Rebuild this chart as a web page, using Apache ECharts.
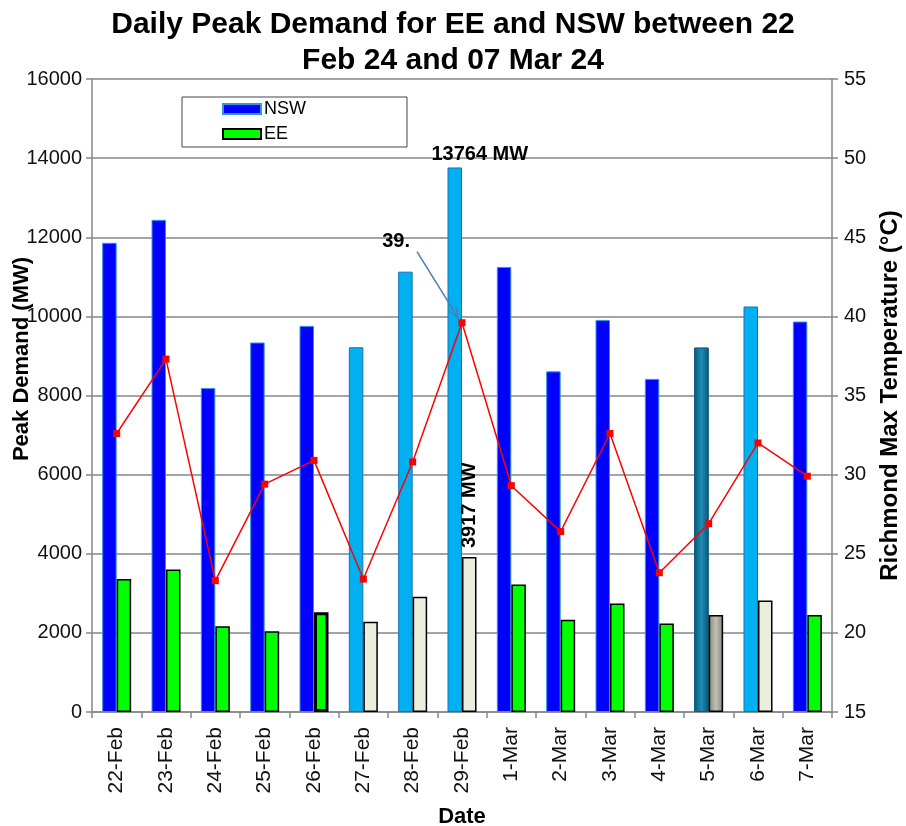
<!DOCTYPE html>
<html>

<head>
    <meta charset="UTF-8" />
    <title>Daily Peak Demand</title>
    <script src="https://cdn.jsdelivr.net/npm/echarts@6/dist/echarts.min.js"></script>
    <style>
        body { margin: 0; background: #fff; }
        #chart { width: 906px; height: 826px; }
    </style>
</head>

<body>
    <div id="chart"></div>

    <script type="text/javascript">
        // data
        const categories = ['22-Feb', '23-Feb', '24-Feb', '25-Feb', '26-Feb', '27-Feb', '28-Feb', '29-Feb',
            '1-Mar', '2-Mar', '3-Mar', '4-Mar', '5-Mar', '6-Mar', '7-Mar'];
        const nswDemand = [11860, 12440, 8190, 9340, 9760, 9220, 11130, 13764, 11250, 8610, 9910, 8420, 9210, 10250, 9870];
        const eeDemand = [3360, 3600, 2170, 2040, 2520, 2280, 2910, 3917, 3220, 2330, 2740, 2240, 2450, 2820, 2450];
        const maxTemp = [32.6, 37.3, 23.3, 29.4, 30.9, 23.4, 30.8, 39.6, 29.3, 26.4, 32.6, 23.8, 26.9, 32.0, 29.9];
        const leftTicks = [0, 16000, 2000];
        const rightTicks = [15, 55, 5];
        // n = normal, l = light, d = dark shaded
        const dayKind = ['n', 'n', 'n', 'n', 'n', 'l', 'l', 'l', 'n', 'n', 'n', 'n', 'd', 'l', 'n'];

        const FONT = 'Liberation Sans';

        let shade = (edge, mid) => ({
            type: 'linear', x: 0, y: 0, x2: 1, y2: 0,
            colorStops: [{ offset: 0, color: edge }, { offset: 0.5, color: mid }, { offset: 1, color: edge }]
        });

        let nswStyle = kind => {
            switch (kind) {
                case 'l':
                    return { color: '#00B0F0', borderColor: '#1a70b8', borderWidth: 1 };
                case 'd':
                    return { color: shade('#0a5675', '#1f8cb8'), borderColor: '#0d5f80', borderWidth: 1 };
                default:
                    return { color: '#0000FF', borderColor: '#3399dd', borderWidth: 1 };
            }
        };

        let eeStyle = (kind, i) => {
            let bw = i === 4 ? 3 : 1.5;
            switch (kind) {
                case 'l':
                    return { color: '#ECEEDD', borderColor: '#000', borderWidth: bw };
                case 'd':
                    return { color: shade('#85857a', '#c0c0b4'), borderColor: '#000', borderWidth: bw };
                default:
                    return { color: '#00FF00', borderColor: '#000', borderWidth: bw };
            }
        };

        let peakIdx = nswDemand.indexOf(Math.max.apply(null, nswDemand));

        let nswData = nswDemand.map((v, i) => {
            let item = { value: v, itemStyle: nswStyle(dayKind[i]) };
            if (i === peakIdx) {
                item.label = {
                    show: true, position: 'top', distance: 3, offset: [25, 0],
                    formatter: v + ' MW', fontFamily: FONT, fontSize: 20, fontWeight: 'bold', color: '#000'
                };
            }
            return item;
        });

        let eeData = eeDemand.map((v, i) => {
            let item = { value: v, itemStyle: eeStyle(dayKind[i], i) };
            if (i === peakIdx) {
                item.label = {
                    show: true, position: 'top', distance: 11, rotate: 90, align: 'left', verticalAlign: 'middle',
                    offset: [-2, 0],
                    formatter: v + ' MW', fontFamily: FONT, fontSize: 20, fontWeight: 'bold', color: '#000'
                };
            }
            return item;
        });

        let chart = echarts.init(document.getElementById('chart'));

        let axisLine = { show: true, lineStyle: { color: '#868686', width: 1.5 } };
        let axisLabel = { fontFamily: FONT, fontSize: 20, color: '#111' };

        let option = {
            animation: false,
            backgroundColor: '#fff',
            title: {
                text: 'Daily Peak Demand for EE and NSW between 22\nFeb 24 and 07 Mar 24',
                left: 'center',
                top: 2,
                textStyle: { fontFamily: FONT, fontSize: 30, fontWeight: 'bold', lineHeight: 36, color: '#000' }
            },
            legend: {
                data: ['NSW', 'EE'],
                orient: 'vertical',
                left: 182,
                top: 97,
                padding: [3, 101, 4, 40],
                itemGap: 7,
                itemWidth: 38,
                itemHeight: 10,
                icon: 'rect',
                borderColor: '#444',
                borderWidth: 1,
                backgroundColor: '#fff',
                textStyle: { fontFamily: FONT, fontSize: 18, color: '#000', padding: [0, 0, 0, -2] }
            },
            grid: { left: 92, right: 74, top: 79, bottom: 114, outerBoundsMode: 'none' },
            xAxis: {
                type: 'category',
                data: categories,
                name: 'Date',
                nameLocation: 'middle',
                nameGap: 94,
                nameTextStyle: { fontFamily: FONT, fontSize: 22, fontWeight: 'bold', color: '#000' },
                axisLine: axisLine,
                axisTick: { show: true, length: 6, lineStyle: { color: '#868686', width: 1.5 } },
                axisLabel: Object.assign({}, axisLabel, { rotate: 90, margin: 15, interval: 0, fontSize: 21 })
            },
            yAxis: [
                {
                    type: 'value',
                    min: leftTicks[0], max: leftTicks[1], interval: leftTicks[2],
                    axisLine: axisLine,
                    axisTick: { show: true, length: 6, lineStyle: { color: '#868686', width: 1.5 } },
                    axisLabel: Object.assign({}, axisLabel, { margin: 10, formatter: v => String(v) }),
                    splitLine: { show: true, lineStyle: { color: '#868686', width: 1.5 } }
                },
                {
                    type: 'value',
                    min: rightTicks[0], max: rightTicks[1], interval: rightTicks[2],
                    name: 'Richmond Max Temperature (°C)',
                    nameLocation: 'middle',
                    nameGap: 46,
                    nameTextStyle: { fontFamily: FONT, fontSize: 24, fontWeight: 'bold', color: '#000' },
                    axisLine: axisLine,
                    axisTick: { show: true, length: 6, lineStyle: { color: '#868686', width: 1.5 } },
                    axisLabel: Object.assign({}, axisLabel, { margin: 12, formatter: v => String(v) }),
                    splitLine: { show: false }
                }
            ],
            series: [
                {
                    name: 'NSW',
                    type: 'bar',
                    barWidth: 14.5,
                    barGap: '0%',
                    itemStyle: { color: '#0000FF', borderColor: '#3399dd', borderWidth: 1 },
                    data: nswData
                },
                {
                    name: 'EE',
                    type: 'bar',
                    barWidth: 14.5,
                    barGap: '0%',
                    itemStyle: { color: '#00FF00', borderColor: '#000', borderWidth: 1.5 },
                    data: eeData
                },
                {
                    name: 'Temperature',
                    type: 'line',
                    yAxisIndex: 1,
                    symbol: 'rect',
                    symbolSize: 7,
                    z: 5,
                    lineStyle: { color: '#FF0000', width: 1.5 },
                    itemStyle: { color: '#FF0000' },
                    data: maxTemp
                }
            ]
        };
        chart.setOption(option);

        // "39." callout with arrow pointing at the hottest day
        let hot = maxTemp.indexOf(Math.max.apply(null, maxTemp));
        let pt = chart.convertToPixel({ seriesIndex: 2 }, [hot, maxTemp[hot]]);
        let end = [pt[0] - 4, pt[1] - 5];
        let start = [pt[0] - 45, pt[1] - 71];
        let ang = Math.atan2(end[1] - start[1], end[0] - start[0]);
        let head = a => [end[0] - 11 * Math.cos(ang + a), end[1] - 11 * Math.sin(ang + a)];

        chart.setOption({
            graphic: [
                {
                    type: 'text', x: 22, y: 359, rotation: Math.PI / 2,
                    style: {
                        text: 'Peak Demand (MW)', fontFamily: FONT, fontSize: 22, fontWeight: 'bold',
                        fill: '#000', align: 'center', verticalAlign: 'middle'
                    },
                    z: 10
                },
                {
                    type: 'text', x: start[0] - 7, y: start[1] - 10,
                    style: {
                        text: '39.', fontFamily: FONT, fontSize: 20, fontWeight: 'bold', fill: '#000',
                        align: 'right', verticalAlign: 'middle'
                    },
                    z: 10
                },
                {
                    type: 'polyline', shape: { points: [start, end] },
                    style: { stroke: '#4a7ebb', lineWidth: 1.5, fill: null }, z: 10
                },
                {
                    type: 'polyline', shape: { points: [head(0.4), end, head(-0.4)] },
                    style: { stroke: '#4a7ebb', lineWidth: 1.5, fill: null }, z: 10
                }
            ]
        });
    </script>
</body>

</html>
